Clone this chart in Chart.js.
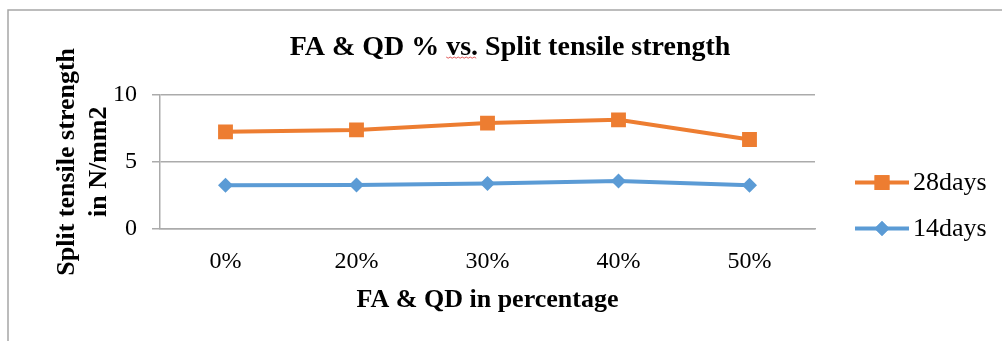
<!DOCTYPE html>
<html>
<head>
<meta charset="utf-8">
<script src="https://cdn.jsdelivr.net/npm/chart.js@4.4.1/dist/chart.umd.min.js"></script>
<style>
  html, body { margin: 0; padding: 0; background: #ffffff; }
  canvas { display: block; }
</style>
</head>
<body>
<canvas id="chart" width="1002" height="341"></canvas>
<script>
// Categories and measured split tensile strengths (N/mm2)
const categories = ['0%', '20%', '30%', '40%', '50%'];
const days28 = [7.23, 7.37, 7.88, 8.12, 6.66];
const days14 = [3.26, 3.27, 3.38, 3.58, 3.25];
const yTicks = [0, 5, 10];
const seriesNames = ['28days', '14days'];
const chartTitle = 'FA & QD % vs. Split tensile strength';
const xTitle = 'FA & QD in percentage';
const yTitle = ['Split tensile strength', 'in N/mm2'];

const SERIF = "'Liberation Serif', 'Times New Roman', serif";
const ORANGE = '#ED7D31';
const BLUE = '#5B9BD5';
const GRID = '#ababab';

// White background and the thin outer frame of the chart object
const framePlugin = {
  id: 'frame',
  beforeDraw(chart) {
    const ctx = chart.ctx;
    ctx.save();
    ctx.fillStyle = '#ffffff';
    ctx.fillRect(0, 0, chart.width, chart.height);
    ctx.strokeStyle = '#a6a6a6';
    ctx.lineWidth = 1.5;
    ctx.strokeRect(8, 10, chart.width + 20, chart.height + 20);
    ctx.restore();
  }
};

// Legend on the right: a short line segment with the series marker, then the name
const lineLegendPlugin = {
  id: 'lineLegend',
  afterDraw(chart) {
    const ctx = chart.ctx;
    const area = chart.chartArea;
    const x0 = area.right + 40;
    const x1 = area.right + 94;
    const xm = (x0 + x1) / 2;
    const rows = [area.top + 88, area.top + 134];
    ctx.save();
    chart.data.datasets.forEach((ds, i) => {
      const y = rows[i];
      ctx.strokeStyle = ds.borderColor;
      ctx.lineWidth = ds.borderWidth;
      ctx.beginPath();
      ctx.moveTo(x0, y);
      ctx.lineTo(x1, y);
      ctx.stroke();
      ctx.fillStyle = ds.pointBackgroundColor;
      Chart.helpers.drawPoint(ctx, {
        pointStyle: ds.pointStyle,
        radius: ds.pointRadius,
        rotation: 0,
        borderWidth: 0
      }, xm, y);
      ctx.fill();
      ctx.fillStyle = '#000000';
      ctx.font = '26px ' + SERIF;
      ctx.textAlign = 'left';
      ctx.textBaseline = 'middle';
      ctx.fillText(ds.label, x1 + 4, y + 1);
    });
    ctx.restore();
  }
};

// Red wavy proofing underline beneath "vs." in the title
const squigglePlugin = {
  id: 'squiggle',
  afterDraw(chart) {
    const t = chart.titleBlock;
    if (!t) return;
    const ctx = chart.ctx;
    ctx.save();
    ctx.font = 'bold 28px ' + SERIF;
    const full = ctx.measureText(chartTitle).width;
    const before = ctx.measureText('FA & QD % ').width;
    const w = ctx.measureText('vs.').width;
    const cx = (t.left + t.right) / 2;
    const start = cx - full / 2 + before;
    const y = 57;
    ctx.strokeStyle = '#e05a5a';
    ctx.lineWidth = 1;
    ctx.beginPath();
    for (let x = 0; x <= w; x += 2) {
      const yy = y + ((x / 2) % 2 === 0 ? 0 : 1.2);
      if (x === 0) ctx.moveTo(start + x, yy); else ctx.lineTo(start + x, yy);
    }
    ctx.stroke();
    ctx.restore();
  }
};

new Chart(document.getElementById('chart'), {
  type: 'line',
  data: {
    labels: categories,
    datasets: [
      {
        label: seriesNames[0],
        data: days28,
        borderColor: ORANGE,
        backgroundColor: ORANGE,
        pointBackgroundColor: ORANGE,
        pointBorderColor: ORANGE,
        borderWidth: 4,
        pointStyle: 'rect',
        pointRadius: 10.5,
        pointBorderWidth: 0,
        tension: 0
      },
      {
        label: seriesNames[1],
        data: days14,
        borderColor: BLUE,
        backgroundColor: BLUE,
        pointBackgroundColor: BLUE,
        pointBorderColor: BLUE,
        borderWidth: 4,
        pointStyle: 'rectRot',
        pointRadius: 7.5,
        pointBorderWidth: 0,
        tension: 0
      }
    ]
  },
  options: {
    responsive: false,
    animation: false,
    layout: { padding: { left: 18, right: 0, top: 0, bottom: 0 } },
    plugins: {
      legend: { display: false },
      tooltip: { enabled: false },
      title: {
        display: true,
        text: chartTitle,
        color: '#000000',
        font: { family: SERIF, size: 28, weight: 'bold', lineHeight: 1.2 },
        padding: { top: 31, bottom: 30 }
      }
    },
    scales: {
      x: {
        type: 'category',
        offset: true,
        grid: { display: false, drawTicks: false },
        border: { display: true, color: GRID, width: 1.5 },
        ticks: {
          color: '#000000',
          font: { family: SERIF, size: 24 },
          padding: 18,
          maxRotation: 0
        },
        title: {
          display: true,
          text: xTitle,
          color: '#000000',
          font: { family: SERIF, size: 26, weight: 'bold', lineHeight: 1.2 },
          padding: { top: 0, bottom: 25 }
        },
        afterFit(scale) { scale.height = 112; }
      },
      y: {
        min: 0,
        max: 10,
        afterBuildTicks(scale) { scale.ticks = yTicks.map(v => ({ value: v })); },
        grid: { color: GRID, lineWidth: 1.5, tickLength: 8, drawTicks: true },
        border: { display: true, color: GRID, width: 1.5 },
        ticks: {
          color: '#000000',
          font: { family: SERIF, size: 24 },
          padding: 15
        },
        title: {
          display: true,
          text: yTitle,
          color: '#000000',
          font: { family: SERIF, size: 26, weight: 'bold', lineHeight: 1.23 },
          padding: { top: 33, bottom: 0 }
        },
        afterFit(scale) { scale.width = 142; }
      },
      side: {
        position: 'right',
        display: true,
        grid: { display: false },
        border: { display: false },
        ticks: { display: false },
        afterFit(scale) { scale.width = 187; }
      }
    }
  },
  plugins: [framePlugin, lineLegendPlugin, squigglePlugin]
});
</script>
</body>
</html>
